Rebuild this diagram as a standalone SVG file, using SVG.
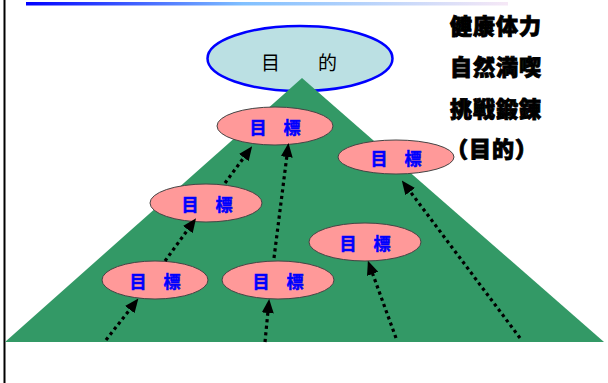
<svg xmlns="http://www.w3.org/2000/svg" width="608" height="383" viewBox="0 0 608 383">
<style>
.goal{fill:#FF9999;stroke:#444;stroke-width:1}
.gt{font-family:"Noto Sans CJK JP","Noto Sans CJK SC",sans-serif;font-size:17px;font-weight:bold;fill:#0000FF;stroke:#0000FF;stroke-width:0.5;text-anchor:middle}
.side{font-family:"Noto Sans CJK JP","Noto Sans CJK SC",sans-serif;font-size:22px;font-weight:900;fill:#000;stroke:#000;stroke-width:0.9;letter-spacing:1px}
.arr{fill:none;stroke:#000;stroke-width:3.2;stroke-dasharray:3.2 3.4;marker-end:url(#ah)}
</style>
<defs>
<linearGradient id="bar" x1="0" y1="0" x2="1" y2="0">
<stop offset="0" stop-color="#0000FF"/>
<stop offset="0.45" stop-color="#80C0FF"/>
<stop offset="1" stop-color="#F6E8F6"/>
</linearGradient>
<marker id="ah" markerUnits="userSpaceOnUse" markerWidth="14" markerHeight="12" viewBox="0 0 14 12" refX="2" refY="6" orient="auto">
<path d="M0,0 L14,6 L0,12 z" fill="#000"/>
</marker>
</defs>
<rect x="26" y="2" width="482" height="3.5" fill="url(#bar)"/>
<line x1="4.5" y1="0" x2="4.5" y2="383" stroke="#000" stroke-width="2"/>
<g id="purpose">
<ellipse cx="300" cy="58.5" rx="92.5" ry="32.5" fill="#BBE0E3" stroke="#0000FF" stroke-width="2.5"/>
<text x="299" y="70" font-family="Noto Sans CJK JP,Noto Sans CJK SC,sans-serif" font-size="19" text-anchor="middle" fill="#000">目　　的</text>
</g>
<polygon id="pyramid" points="302,78 604,342 5,342" fill="#339966"/>
<g id="goal1"><ellipse class="goal" cx="275" cy="126" rx="58" ry="19"/><text class="gt" x="275" y="134">目　標</text></g>
<g id="goal2"><ellipse class="goal" cx="396" cy="157" rx="58" ry="17"/><text class="gt" x="396" y="165">目　標</text></g>
<g id="goal3"><ellipse class="goal" cx="206" cy="203" rx="56" ry="19"/><text class="gt" x="207" y="211">目　標</text></g>
<g id="goal4"><ellipse class="goal" cx="365" cy="242" rx="56" ry="19"/><text class="gt" x="365" y="250">目　標</text></g>
<g id="goal5"><ellipse class="goal" cx="155" cy="280" rx="53" ry="19"/><text class="gt" x="155" y="288">目　標</text></g>
<g id="goal6"><ellipse class="goal" cx="278" cy="280" rx="56" ry="19"/><text class="gt" x="278" y="288">目　標</text></g>
<g id="connectors">
<line class="arr" x1="106" y1="340" x2="131" y2="308"/>
<line class="arr" x1="165" y1="261" x2="189" y2="228"/>
<line class="arr" x1="225" y1="183" x2="245" y2="156"/>
<line class="arr" x1="274" y1="258" x2="287" y2="155"/>
<line class="arr" x1="265" y1="342" x2="268" y2="311"/>
<line class="arr" x1="396" y1="338" x2="372" y2="272"/>
<line class="arr" x1="520" y1="338" x2="409" y2="190"/>
</g>
<g id="side-text">
<text class="side" x="450" y="34">健康体力</text>
<text class="side" x="450" y="75">自然満喫</text>
<text class="side" x="450" y="117">挑戦鍛錬</text>
<text class="side" x="446" y="157">（目的）</text>
</g>
</svg>
